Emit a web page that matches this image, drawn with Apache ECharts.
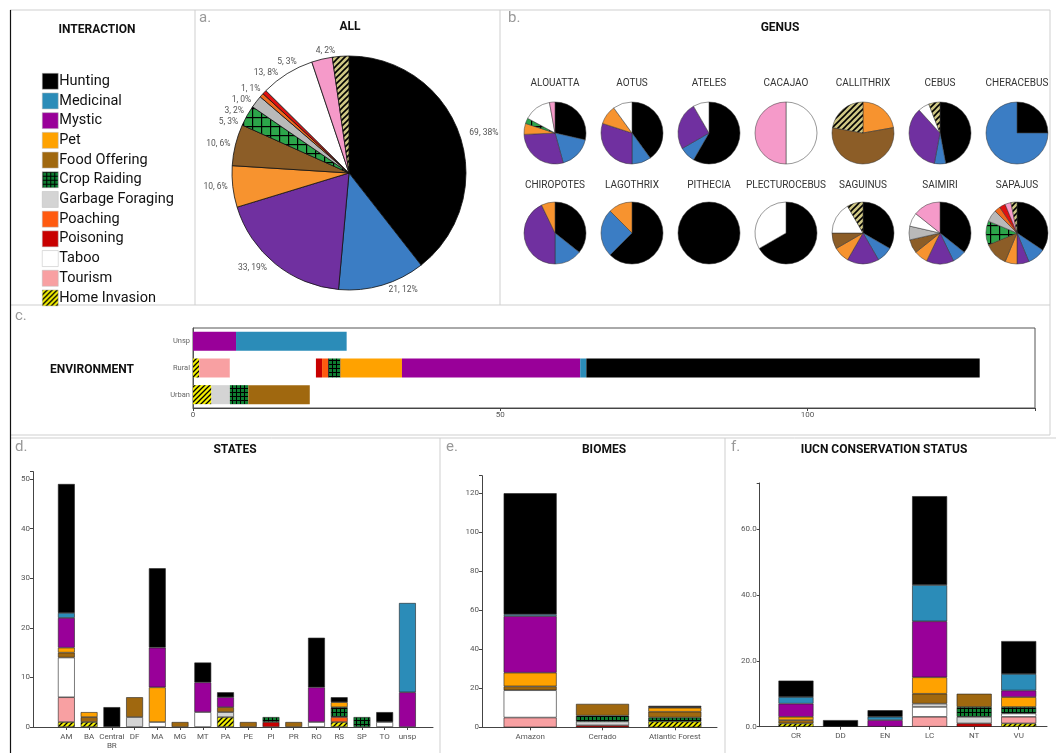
<!DOCTYPE html>
<html>
<head>
<meta charset="utf-8">
<title>Primate interactions</title>
<script src="https://cdn.jsdelivr.net/npm/echarts@6/dist/echarts.min.js"></script>
<style>
html, body { margin: 0; padding: 0; background: #fff; }
#chart { width: 1056px; height: 753px; }
</style>
</head>
<body>
<div id="chart"></div>
<script>
var interactions = ['Hunting', 'Medicinal', 'Mystic', 'Pet', 'Food Offering', 'Crop Raiding',
	'Garbage Foraging', 'Poaching', 'Poisoning', 'Taboo', 'Tourism', 'Home Invasion'];

/* a. ALL */
var allCounts = [69, 21, 33, 10, 10, 5, 3, 1, 1, 13, 5, 4];
var allPct = ['38%', '12%', '19%', '6%', '6%', '3%', '2%', '0%', '1%', '8%', '3%', '2%'];

/* b. GENUS  (same order as interactions) */
var genusNames = ['ALOUATTA', 'AOTUS', 'ATELES', 'CACAJAO', 'CALLITHRIX', 'CEBUS', 'CHERACEBUS',
	'CHIROPOTES', 'LAGOTHRIX', 'PITHECIA', 'PLECTUROCEBUS', 'SAGUINUS', 'SAIMIRI', 'SAPAJUS'];
var alouatta = [10, 6, 10, 2, 0, 1, 0, 0, 0, 5, 1, 0];
var aotus = [4, 1, 3, 1, 0, 0, 0, 0, 0, 1, 0, 0];
var ateles = [7, 1, 3, 0, 0, 0, 0, 0, 0, 1, 0, 0];
var cacajao = [0, 0, 0, 0, 0, 0, 0, 0, 0, 1, 1, 0];
var callithrix = [0, 0, 0, 2, 5, 0, 0, 0, 0, 0, 0, 2];
var cebus = [8, 1, 6, 0, 0, 0, 0, 0, 0, 1, 0, 1];
var cheracebus = [1, 3, 0, 0, 0, 0, 0, 0, 0, 0, 0, 0];
var chiropotes = [5, 2, 6, 1, 0, 0, 0, 0, 0, 0, 0, 0];
var lagothrix = [5, 2, 0, 1, 0, 0, 0, 0, 0, 0, 0, 0];
var pithecia = [1, 0, 0, 0, 0, 0, 0, 0, 0, 0, 0, 0];
var plecturocebus = [2, 0, 0, 0, 0, 0, 0, 0, 0, 1, 0, 0];
var saguinus = [4, 1, 2, 1, 1, 0, 0, 0, 0, 2, 0, 1];
var saimiri = [5, 1, 2, 1, 1, 0, 1, 0, 0, 1, 2, 0];
var sapajus = [11, 3, 2, 2, 4, 4, 2, 1, 1, 0, 1, 1];
var genusData = [alouatta, aotus, ateles, cacajao, callithrix, cebus, cheracebus,
	chiropotes, lagothrix, pithecia, plecturocebus, saguinus, saimiri, sapajus];

/* c. ENVIRONMENT  (rows = interactions, cols = envNames) */
var envNames = ['Urban', 'Rural', 'Unsp'];
var envCounts = [
	[0, 64, 0], [0, 1, 18], [0, 29, 7], [0, 10, 0], [10, 0, 0], [3, 2, 0],
	[3, 0, 0], [0, 1, 0], [0, 1, 0], [0, 14, 0], [0, 5, 0], [3, 1, 0]
];

/* d. STATES */
var states = ['AM', 'BA', 'Central\nBR', 'DF', 'MA', 'MG', 'MT', 'PA', 'PE', 'PI', 'PR', 'RO', 'RS', 'SP', 'TO', 'unsp'];
var stateCounts = [
	[26, 0, 4, 0, 16, 0, 4, 1, 0, 0, 0, 10, 1, 0, 2, 0],
	[1, 0, 0, 0, 0, 0, 0, 0, 0, 0, 0, 0, 0, 0, 0, 18],
	[6, 0, 0, 0, 8, 0, 6, 2, 0, 0, 0, 7, 0, 0, 0, 7],
	[1, 1, 0, 0, 7, 0, 0, 0, 0, 0, 0, 0, 1, 0, 0, 0],
	[1, 1, 0, 4, 0, 1, 0, 1, 1, 0, 1, 0, 0, 0, 0, 0],
	[0, 0, 0, 0, 0, 0, 0, 0, 0, 1, 0, 0, 2, 2, 0, 0],
	[0, 0, 0, 2, 0, 0, 0, 1, 0, 0, 0, 0, 0, 0, 0, 0],
	[0, 0, 0, 0, 0, 0, 0, 0, 0, 0, 0, 0, 1, 0, 0, 0],
	[0, 0, 0, 0, 0, 0, 0, 0, 0, 1, 0, 0, 0, 0, 0, 0],
	[8, 0, 0, 0, 1, 0, 3, 0, 0, 0, 0, 1, 0, 0, 1, 0],
	[5, 0, 0, 0, 0, 0, 0, 0, 0, 0, 0, 0, 0, 0, 0, 0],
	[1, 1, 0, 0, 0, 0, 0, 2, 0, 0, 0, 0, 1, 0, 0, 0]
];

/* e. BIOMES */
var biomes = ['Amazon', 'Cerrado', 'Atlantic Forest'];
var biomeCounts = [
	[62, 0, 1], [1, 0, 0], [29, 0, 0], [7, 0, 2], [2, 6, 3], [0, 3, 2],
	[0, 2, 0], [0, 0, 0], [0, 1, 0], [14, 0, 0], [5, 0, 0], [0, 0, 3]
];

/* f. IUCN */
var iucn = ['CR', 'DD', 'EN', 'LC', 'NT', 'VU'];
var iucnCounts = [
	[5, 2, 2, 27, 0, 10], [2, 0, 1, 11, 0, 5], [4, 0, 2, 17, 0, 2], [1, 0, 0, 5, 0, 3],
	[1, 0, 0, 3, 4, 0], [0, 0, 0, 0, 3, 2], [0, 0, 0, 1, 2, 0], [0, 0, 0, 0, 0, 0],
	[0, 0, 0, 0, 1, 0], [0, 0, 0, 3, 0, 1], [0, 0, 0, 3, 0, 2], [1, 0, 0, 0, 0, 1]
];

var cond = "Roboto, 'DejaVu Sans', sans-serif";

// fill patterns
function hatch(base, size, lw) {
	var c = document.createElement('canvas');
	c.width = size; c.height = size;
	var g = c.getContext('2d');
	g.fillStyle = base; g.fillRect(0, 0, size, size);
	g.strokeStyle = '#000'; g.lineWidth = lw;
	g.beginPath();
	g.moveTo(0, size); g.lineTo(size, 0);
	g.moveTo(-size, size); g.lineTo(size, -size);
	g.moveTo(0, 2 * size); g.lineTo(2 * size, 0);
	g.stroke();
	return { image: c, repeat: 'repeat' };
}
function gridFill(base, size, lw) {
	var c = document.createElement('canvas');
	c.width = size; c.height = size;
	var g = c.getContext('2d');
	g.fillStyle = base; g.fillRect(0, 0, size, size);
	g.fillStyle = '#000';
	g.fillRect(0, 0, size, lw);
	g.fillRect(0, 0, lw, size);
	return { image: c, repeat: 'repeat' };
}

var barColors = ['#000000', '#2b8cb8', '#990099', '#ffa200', '#a0680f', gridFill('#0e7d30', 4, 1),
	'#d4d4d4', '#ff5a10', '#c80000', '#ffffff', '#f8a0a2', hatch('#f2ee00', 5, 1.3)];
var pieColors = ['#000000', '#3b7dc4', '#7030a0', '#f7932f', '#8c5d27', gridFill('#2ca54a', 9, 1.2),
	'#b9b9b9', '#f06a1e', '#e01010', '#ffffff', '#f59ac9', hatch('#cfc784', 6, 1.6)];

function noZero(arr) {
	return arr.map(function(v) { return v === 0 ? '-' : v; });
}
function pieItems(arr) {
	var out = [];
	arr.forEach(function(v, i) {
		if (v > 0) out.push({ name: interactions[i], value: v, idx: i, itemStyle: { color: pieColors[i] } });
	});
	return out;
}

var series = [];
// stacks start with Home Invasion at the base and end with Hunting
var stackOrder = interactions.map(function(n, i) { return i; }).reverse();
// c
stackOrder.forEach(function(i) {
	series.push({
		name: interactions[i], type: 'bar', stack: 'env', xAxisIndex: 0, yAxisIndex: 0,
		barWidth: 19, itemStyle: { color: barColors[i] },
		data: noZero(envCounts[i])
	});
});
// d, e, f
var barPanels = [
	{ counts: stateCounts, axis: 1, width: '74%', stack: 'st' },
	{ counts: biomeCounts, axis: 2, width: 53, stack: 'bi' },
	{ counts: iucnCounts, axis: 3, width: 35, stack: 'iu' }
];
barPanels.forEach(function(p) {
	stackOrder.forEach(function(i) {
		series.push({
			name: interactions[i], type: 'bar', stack: p.stack, xAxisIndex: p.axis, yAxisIndex: p.axis,
			barWidth: p.width,
			itemStyle: { color: barColors[i], borderColor: '#222', borderWidth: 0.6 },
			data: noZero(p.counts[i])
		});
	});
});
// a
series.push({
	name: 'ALL', type: 'pie', center: [349, 173], radius: 117,
	itemStyle: { borderColor: '#111', borderWidth: 0.8 },
	label: {
		show: true, position: 'outside', fontFamily: cond, fontSize: 8.5, color: '#555',
		formatter: function(p) { return p.value + ', ' + allPct[p.data.idx]; }
	},
	labelLine: { show: false, length: 5, length2: 0 },
	data: pieItems(allCounts)
});
// b
var colX = [555, 632, 709, 786, 863, 940, 1017];
var rowY = [133, 233];
var titleY = [83, 185];
var texts = [];
genusData.forEach(function(arr, k) {
	var cx = colX[k % 7], r = Math.floor(k / 7);
	series.push({
		name: genusNames[k], type: 'pie', center: [cx, rowY[r]], radius: 31,
		label: { show: false }, labelLine: { show: false }, silent: true,
		itemStyle: { borderColor: '#333', borderWidth: 0.5 },
		data: pieItems(arr)
	});
	texts.push({ t: genusNames[k], x: cx, y: titleY[r], size: 10, bold: false, color: '#333' });
});

// panel headings
var heads = [
	['INTERACTION', 97, 30], ['ALL', 350, 27], ['GENUS', 780, 28], ['ENVIRONMENT', 92, 370],
	['STATES', 235, 450], ['BIOMES', 604, 450], ['IUCN CONSERVATION STATUS', 884, 450]
];
heads.forEach(function(h) { texts.push({ t: h[0], x: h[1], y: h[2], size: 12, bold: true, color: '#111' }); });
var letters = [['a.', 199, 18], ['b.', 508, 18], ['c.', 15, 316], ['d.', 15, 447], ['e.', 446, 447], ['f.', 731, 447]];

var graphic = [];
texts.forEach(function(o) {
	graphic.push({
		type: 'text', x: o.x, y: o.y, silent: true,
		style: {
			text: o.t, fill: o.color, align: 'center', verticalAlign: 'middle',
			textAlign: 'center', textVerticalAlign: 'middle',
			font: (o.bold ? 'bold ' : '') + o.size + 'px ' + cond
		}
	});
});
letters.forEach(function(o) {
	graphic.push({
		type: 'text', x: o[1], y: o[2], silent: true,
		style: { text: o[0], fill: '#999', align: 'left', verticalAlign: 'middle',
			textAlign: 'left', textVerticalAlign: 'middle', font: '15px ' + cond }
	});
});
// panel frames
var frameLines = [
	[10, 10, 1050, 10], [195, 10, 195, 305], [500, 10, 500, 305], [10, 305, 1050, 305],
	[1050, 10, 1050, 435], [10, 435, 1050, 435], [10, 438, 1056, 438],
	[440, 438, 440, 753], [725, 438, 725, 753]
];
frameLines.forEach(function(l) {
	graphic.push({ type: 'line', silent: true, shape: { x1: l[0], y1: l[1], x2: l[2], y2: l[3] },
		style: { stroke: '#cfcfcf', lineWidth: 1 } });
});
graphic.push({ type: 'line', silent: true, shape: { x1: 10.5, y1: 10, x2: 10.5, y2: 753 },
	style: { stroke: '#111', lineWidth: 1.2 } });

function valAxis(grid, offset, max, interval, fmt) {
	return {
		type: 'value', gridIndex: grid, offset: offset, min: 0, max: max, interval: interval,
		axisLine: { show: true, lineStyle: { color: '#444', width: 1 } },
		axisTick: { show: true, length: 3, lineStyle: { color: '#444' } },
		axisLabel: { fontFamily: cond, fontSize: 8, color: '#555', margin: 3, formatter: fmt },
		splitLine: { show: false }
	};
}
function catAxis(grid, data) {
	return {
		type: 'category', gridIndex: grid, data: data,
		axisLine: { show: false },
		axisTick: { show: true, alignWithLabel: true, length: 3, lineStyle: { color: '#444' } },
		axisLabel: { fontFamily: cond, fontSize: 8, color: '#555', interval: 0, margin: 5, lineHeight: 9 }
	};
}
function lineAxis(grid) {
	return {
		type: 'value', gridIndex: grid, min: 0, max: 1,
		axisLine: { show: true, lineStyle: { color: '#444', width: 1 } },
		axisTick: { show: false }, axisLabel: { show: false }, splitLine: { show: false }
	};
}
function hiddenAxis(grid) {
	return { type: 'value', gridIndex: grid, show: false };
}

var option = {
	animation: false,
	textStyle: { fontFamily: cond },
	legend: {
		data: interactions, orient: 'vertical', left: 37, top: 68,
		itemWidth: 16, itemHeight: 16, itemGap: 3.2, icon: 'rect', selectedMode: false,
		itemStyle: { borderColor: '#bbb', borderWidth: 0.5 },
		textStyle: { fontFamily: 'Roboto', fontSize: 14.5, color: '#111', padding: [0, 0, 0, -4] }
	},
	graphic: graphic,
	grid: [
		{ left: 193, top: 328, width: 842, height: 80, show: true, borderColor: '#555', borderWidth: 1 },
		{ left: 55, top: 471.6, width: 363.8, height: 255.4 },
		{ left: 494, top: 475.7, width: 217, height: 251.6 },
		{ left: 773.7, top: 483, width: 267.3, height: 243.7 },
		{ left: 33, top: 726, width: 400, height: 1 },
		{ left: 482, top: 726.3, width: 235, height: 1 },
		{ left: 760, top: 725.7, width: 287, height: 1 }
	],
	xAxis: [
		valAxis(0, 0, 137, 50, function(v) { return v % 50 === 0 ? v : ''; }),
		catAxis(1, states),
		catAxis(2, biomes),
		catAxis(3, iucn),
		lineAxis(4), lineAxis(5), lineAxis(6)
	],
	yAxis: [
		{
			type: 'category', gridIndex: 0, data: envNames,
			axisLine: { show: true, lineStyle: { color: '#555' } },
			axisTick: { show: false },
			axisLabel: { fontFamily: cond, fontSize: 7.5, color: '#666', margin: 3 }
		},
		valAxis(1, 22, 51.5, 10, function(v) { return v % 10 === 0 ? v : ''; }),
		valAxis(2, 12, 129, 20, function(v) { return v % 20 === 0 ? v : ''; }),
		valAxis(3, 14, 74, 20, function(v) { return v % 20 === 0 ? v.toFixed(1) : ''; }),
		hiddenAxis(4), hiddenAxis(5), hiddenAxis(6)
	],
	series: series
};

var chart = echarts.init(document.getElementById('chart'));
chart.setOption(option);
</script>
</body>
</html>
